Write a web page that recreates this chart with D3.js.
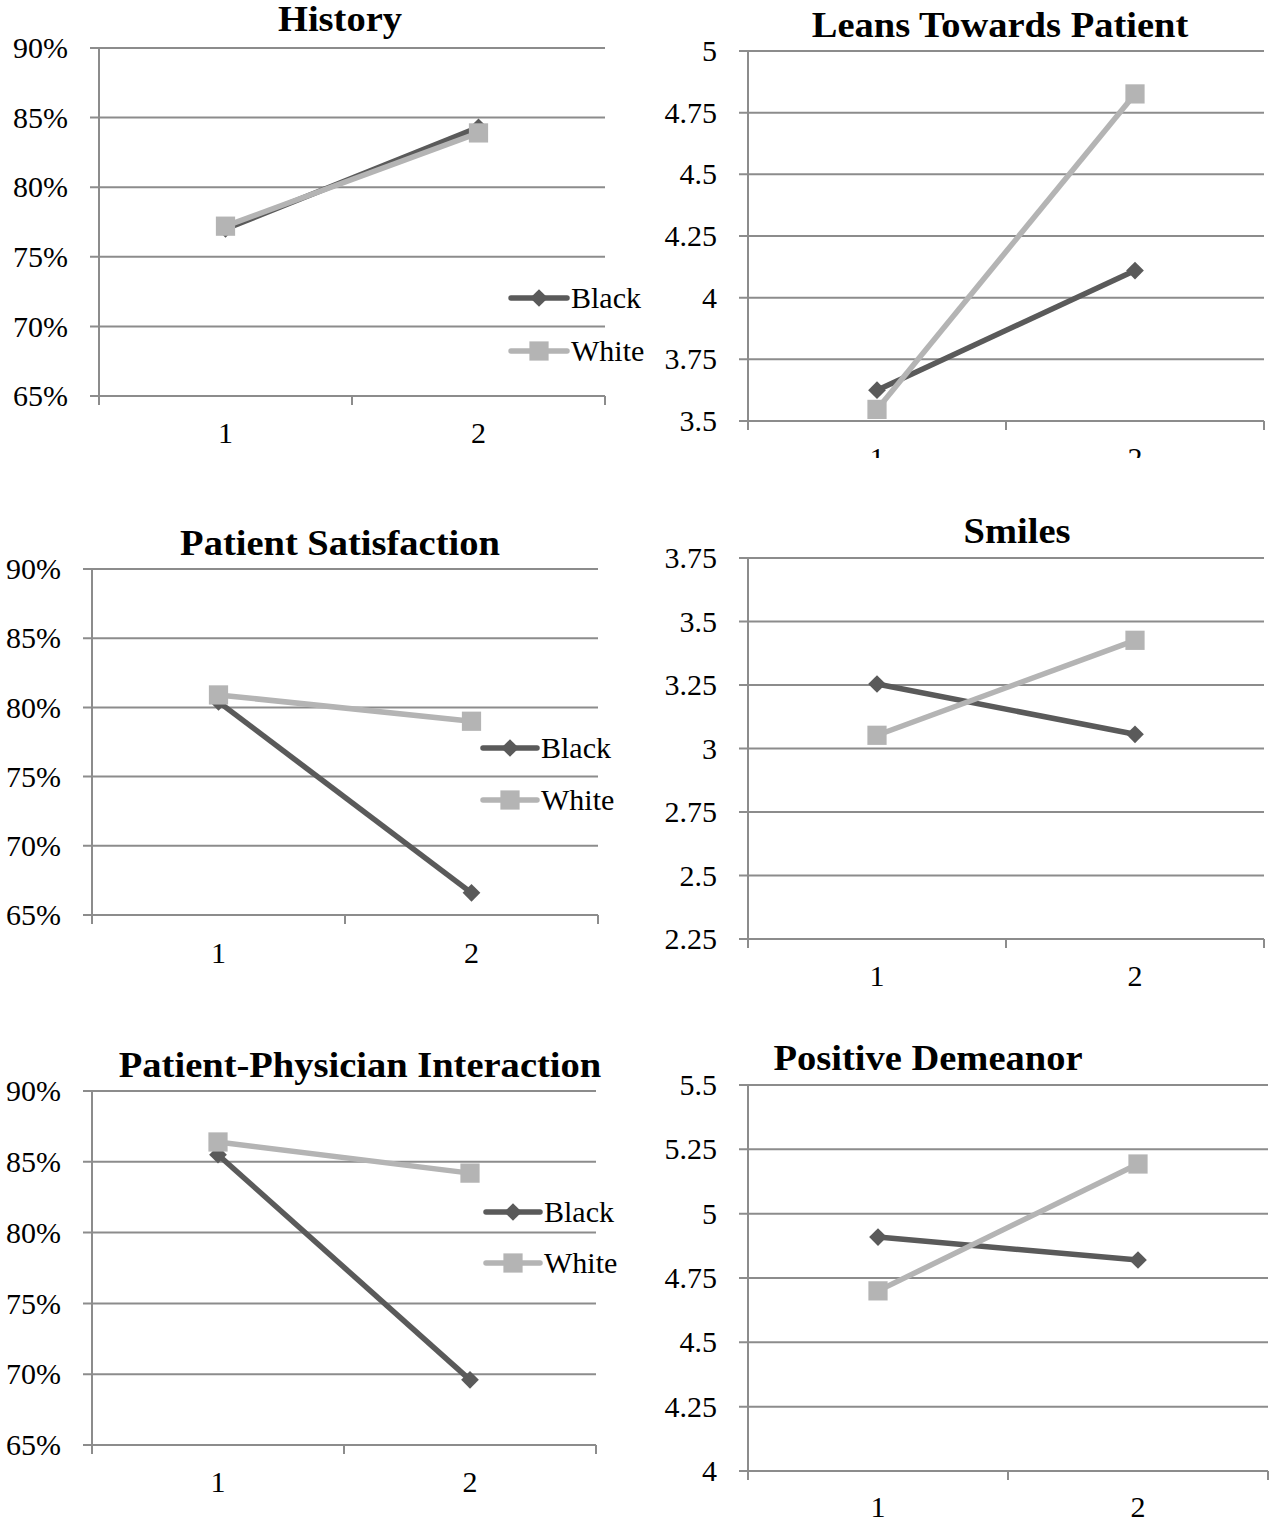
<!DOCTYPE html>
<html>
<head>
<meta charset="utf-8">
<script src="https://cdn.jsdelivr.net/npm/d3@7"></script>
<style>
  html, body { margin: 0; padding: 0; background: #fff; }
  svg { display: block; }
  text { font-family: "Liberation Serif", "Times New Roman", serif; fill: #000; }
</style>
</head>
<body>
<svg id="chart" width="1270" height="1519"></svg>
<script>
// ---------------- data ----------------
const categories = ["1", "2"];
const seriesNames = ["Black", "White"];
const panelTitles = ["History", "Leans Towards Patient", "Patient Satisfaction", "Smiles", "Patient-Physician Interaction", "Positive Demeanor"];

const historyBlack = [0.770, 0.843];
const historyWhite = [0.772, 0.839];
const leansBlack = [3.625, 4.11];
const leansWhite = [3.547, 4.826];
const satisfactionBlack = [0.804, 0.666];
const satisfactionWhite = [0.809, 0.790];
const smilesBlack = [3.254, 3.056];
const smilesWhite = [3.052, 3.426];
const interactionBlack = [0.855, 0.696];
const interactionWhite = [0.864, 0.842];
const demeanorBlack = [4.909, 4.82];
const demeanorWhite = [4.70, 5.193];

const pctTicks = [0.65, 0.70, 0.75, 0.80, 0.85, 0.90];
const leansTicks = [3.5, 3.75, 4, 4.25, 4.5, 4.75, 5];
const smilesTicks = [2.25, 2.5, 2.75, 3, 3.25, 3.5, 3.75];
const demeanorTicks = [4, 4.25, 4.5, 4.75, 5, 5.25, 5.5];

// ---------------- layout (positions only) ----------------
const panels = [
  { title: panelTitles[0], black: historyBlack, white: historyWhite, ticks: pctTicks, pct: true,
    left: 99, right: 605, top: 48, bottom: 396, tx: 340, ty: 31, pad: 26,
    legend: { x1: 511, x2: 567, y1: 298, y2: 351 } },
  { title: panelTitles[1], black: leansBlack, white: leansWhite, ticks: leansTicks, pct: false,
    left: 748, right: 1264, top: 51, bottom: 421, tx: 1000, ty: 37, pad: 26, clipY: 458 },
  { title: panelTitles[2], black: satisfactionBlack, white: satisfactionWhite, ticks: pctTicks, pct: true,
    left: 92, right: 598, top: 569, bottom: 915, tx: 340, ty: 555, pad: 27,
    legend: { x1: 483, x2: 537, y1: 748, y2: 800 } },
  { title: panelTitles[3], black: smilesBlack, white: smilesWhite, ticks: smilesTicks, pct: false,
    left: 748, right: 1264, top: 558, bottom: 939, tx: 1017, ty: 543, pad: 26 },
  { title: panelTitles[4], black: interactionBlack, white: interactionWhite, ticks: pctTicks, pct: true,
    left: 92, right: 596, top: 1091, bottom: 1445, tx: 360, ty: 1077, pad: 26,
    legend: { x1: 486, x2: 540, y1: 1212, y2: 1263 } },
  { title: panelTitles[5], black: demeanorBlack, white: demeanorWhite, ticks: demeanorTicks, pct: false,
    left: 748, right: 1268, top: 1085, bottom: 1471, tx: 928, ty: 1070, pad: 25 }
];

const colBlack = "#5a5a5a";
const colWhite = "#b4b4b4";
const gridCol = "#8c8c8c";
const lineW = 5.5;

const svg = d3.select("#chart");
const defs = svg.append("defs");

const diamond = d3.symbol().type(d3.symbolDiamond2).size(200);
const square = d3.symbol().type(d3.symbolSquare).size(370);

panels.forEach((p, i) => {
  let g = svg.append("g");
  if (p.clipY) {
    defs.append("clipPath").attr("id", "clip" + i)
      .append("rect").attr("x", 0).attr("y", 0).attr("width", 1270).attr("height", p.clipY);
    g.attr("clip-path", "url(#clip" + i + ")");
  }

  const y = d3.scaleLinear().domain(d3.extent(p.ticks)).range([p.bottom, p.top]);
  const x = d3.scaleBand().domain(categories).range([p.left, p.right]);
  const fmt = p.pct ? d3.format(".0%") : (d => String(d));

  // gridlines + left tick marks
  g.append("g").selectAll("line").data(p.ticks).join("line")
    .attr("x1", p.left - 9).attr("x2", p.right)
    .attr("y1", d => y(d)).attr("y2", d => y(d))
    .attr("stroke", gridCol).attr("stroke-width", 2);

  // y axis line
  g.append("line").attr("x1", p.left).attr("x2", p.left)
    .attr("y1", p.top).attr("y2", p.bottom + 9)
    .attr("stroke", gridCol).attr("stroke-width", 2);

  // x tick marks at band boundaries
  const bounds = [x.range()[0]].concat(categories.map(c => x(c) + x.bandwidth()));
  g.append("g").selectAll("line").data(bounds).join("line")
    .attr("x1", d => d).attr("x2", d => d)
    .attr("y1", p.bottom).attr("y2", p.bottom + 9)
    .attr("stroke", gridCol).attr("stroke-width", 2);

  // y tick labels through d3 axis
  const ya = g.append("g").attr("transform", `translate(${p.left},0)`)
    .call(d3.axisLeft(y).tickValues(p.ticks).tickFormat(fmt).tickSize(0).tickPadding(31));
  ya.select(".domain").remove();
  ya.selectAll("text").attr("font-size", 30).attr("font-family", "Liberation Serif").attr("fill", "#000");

  // x tick labels through d3 axis
  const xa = g.append("g").attr("transform", `translate(0,${p.bottom})`)
    .call(d3.axisBottom(x).tickSize(0).tickPadding(p.pad));
  xa.select(".domain").remove();
  xa.selectAll("text").attr("font-size", 30).attr("font-family", "Liberation Serif").attr("fill", "#000");

  // title (slightly widened like the reference)
  g.append("text").attr("transform", `translate(${p.tx},${p.ty}) scale(1.07,1)`)
    .attr("text-anchor", "middle")
    .attr("font-size", 36).attr("font-weight", "bold").text(p.title);

  const line = d3.line().x((d, k) => x(categories[k]) + x.bandwidth() / 2).y(d => y(d));

  // Black series
  g.append("path").datum(p.black).attr("d", line).attr("fill", "none")
    .attr("stroke", colBlack).attr("stroke-width", lineW);
  g.append("g").selectAll("path").data(p.black).join("path")
    .attr("d", diamond)
    .attr("transform", (d, k) => `translate(${x(categories[k]) + x.bandwidth() / 2},${y(d)})`)
    .attr("fill", colBlack);

  // White series
  g.append("path").datum(p.white).attr("d", line).attr("fill", "none")
    .attr("stroke", colWhite).attr("stroke-width", lineW);
  g.append("g").selectAll("path").data(p.white).join("path")
    .attr("d", square)
    .attr("transform", (d, k) => `translate(${x(categories[k]) + x.bandwidth() / 2},${y(d)})`)
    .attr("fill", colWhite);

  // legend
  if (p.legend) {
    const L = p.legend;
    const mx = (L.x1 + L.x2) / 2;
    [[seriesNames[0], L.y1, colBlack, diamond], [seriesNames[1], L.y2, colWhite, square]].forEach(([name, ly, col, sym]) => {
      const lg = g.append("g");
      lg.append("line").attr("x1", L.x1).attr("x2", L.x2).attr("y1", ly).attr("y2", ly)
        .attr("stroke", col).attr("stroke-width", lineW).attr("stroke-linecap", "round");
      lg.append("path").attr("d", sym).attr("transform", `translate(${mx},${ly})`).attr("fill", col);
      lg.append("text").attr("x", L.x2 + 4).attr("y", ly).attr("dy", "0.34em")
        .attr("font-size", 30).text(name);
    });
  }
});
</script>
</body>
</html>
